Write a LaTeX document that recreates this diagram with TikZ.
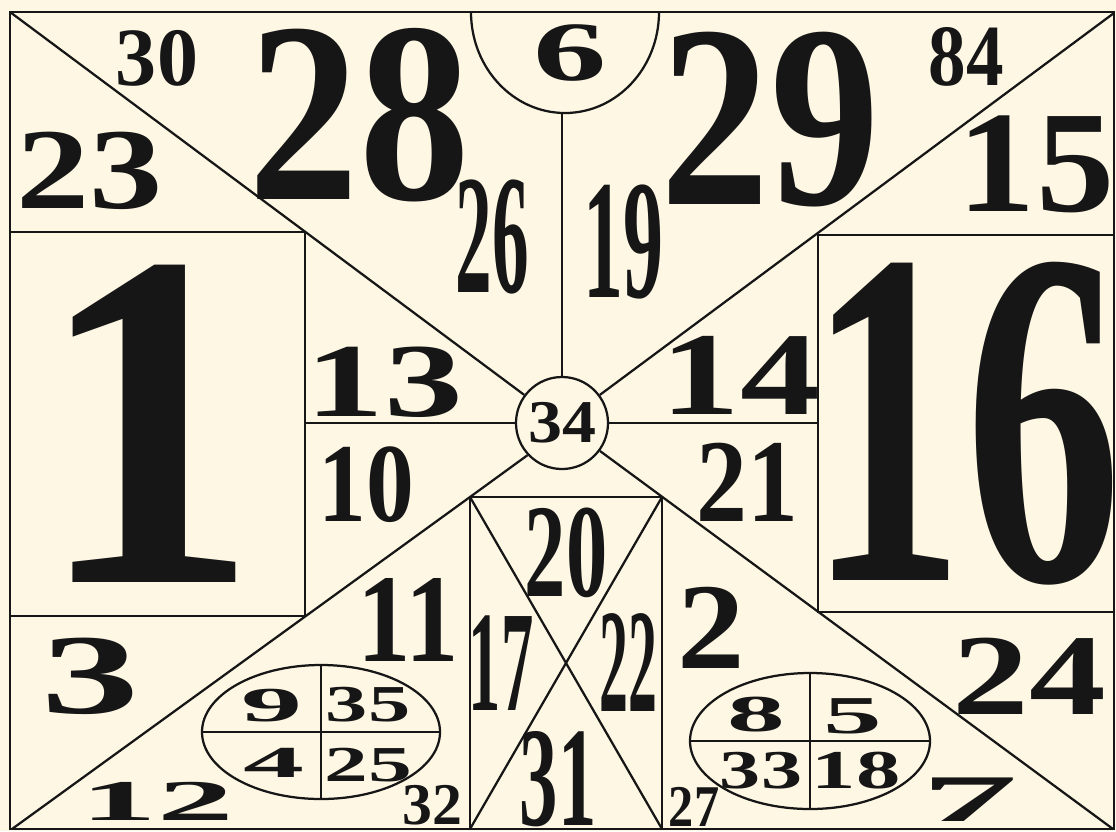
\documentclass[tikz,border=0pt]{standalone}
\usepackage{fontspec}
\setmainfont{Liberation Serif}
\definecolor{paper}{RGB}{254, 247, 228}
\definecolor{ink}{RGB}{22, 22, 22}
\usepackage{tikz}
\usetikzlibrary{calc}
\usepackage{graphicx}

% number: x-stretch, digit height in px, text
\newcommand{\dg}[3]{\scalebox{#1}[1]{\fontsize{\fpeval{1.052*#2}}{\fpeval{1.2*#2}}\selectfont\bfseries #3}}

\begin{document}
\begin{tikzpicture}[x=0.025cm, y=-0.025cm, line width=1.6pt, color=ink,
    lbl/.style={inner sep=0pt, anchor=center}]
  \fill[paper] (0,0) rectangle (1116,831);
  \useasboundingbox (0,0) rectangle (1116,831);

  \coordinate (tl) at (10,12);
  \coordinate (tr) at (1114,13);
  \coordinate (br) at (1113,829);
  \coordinate (bl) at (12,829);
  \coordinate (m1) at (470,497);
  \coordinate (m2) at (662,497);
  \coordinate (m3) at (662,829);
  \coordinate (m4) at (470,829);
  \coordinate (s6) at (562,113);

  \node[circle, draw, inner sep=0pt, minimum size=2.3cm] (c34) at (562,423)
    {\dg{1.12}{41}{34}};

  \draw (tl) rectangle (1114,829);

  % diagonals
  \draw (tl) -- (c34);
  \draw (tr) -- (c34);
  \draw (br) -- (c34);
  \draw (bl) -- (m1) -- (c34.223);

  % left and right boxes
  \draw (10,232) -- (305,232) -- (305,616) -- (10,616);
  \draw (305,423) -- (c34.west);
  \draw (1114,235) -- (818,235) -- (818,612) -- (1114,612);
  \draw (c34.east) -- (818,423);

  % half circle on top
  \begin{scope}
    \clip (0,12) rectangle (1116,200);
    \draw (565,12) ellipse [x radius=94, y radius=101];
  \end{scope}
  \draw (c34) -- (s6);

  % middle box
  \draw (m4) -- (m1) -- (m2) -- (m3);
  \draw (m1) -- (m3);
  \draw (m2) -- (m4);

  % ovals
  \draw (321,732) ellipse [x radius=119, y radius=67];
  \draw (202,732) -- (440,732);
  \draw (321,665) -- (321,799);
  \draw (810,741) ellipse [x radius=120, y radius=68];
  \draw (690,741) -- (930,741);
  \draw (810,673) -- (810,809);

  \node[lbl] (n30) at (157,58) {\dg{0.99}{56}{30}};
  \node[lbl] (n23) at (90,171) {\dg{1.27}{78}{23}};
  \node[lbl] (n28) at (359,115) {\dg{0.86}{174}{28}};
  \node[lbl] (n6) at (570,53) {\dg{1.74}{57}{6}};
  \node[lbl] (n29) at (770,120) {\dg{0.84}{176}{29}};
  \node[lbl] (n84) at (966,57) {\dg{0.86}{59}{84}};
  \node[lbl] (n15) at (1036,164) {\dg{1.08}{98}{15}};
  \node[lbl] (n26) at (492,237) {\dg{0.43}{115}{26}};
  \node[lbl] (n19) at (623,242) {\dg{0.47}{115}{19}};
  \node[lbl] (n1) at (148,424) {\dg{0.92}{325}{1}};
  \node[lbl] (n13) at (384,382) {\dg{1.5}{71}{13}};
  \node[lbl] (n14) at (740,375) {\dg{1.35}{80}{14}};
  \node[lbl] (n16) at (965,424) {\dg{0.65}{325}{16}};
  \node[lbl] (n10) at (366,485) {\dg{0.85}{76}{10}};
  \node[lbl] (n21) at (747,482) {\dg{0.86}{80}{21}};
  \node[lbl] (n20) at (566,553) {\dg{0.62}{90}{20}};
  \node[lbl] (n11) at (408,620) {\dg{0.85}{85}{11}};
  \node[lbl] (n17) at (501,663) {\dg{0.45}{97}{17}};
  \node[lbl] (n22) at (628,663) {\dg{0.39}{100}{22}};
  \node[lbl] (n2) at (711,628) {\dg{1.1}{83}{2}};
  \node[lbl] (n3) at (90,676) {\dg{1.72}{77}{3}};
  \node[lbl] (n24) at (1029,676) {\dg{1.33}{78}{24}};
  \node[lbl] (n9) at (272,706) {\dg{2.5}{33}{9}};
  \node[lbl] (n35) at (368,705) {\dg{1.63}{35}{35}};
  \node[lbl] (n4) at (274,763) {\dg{2.75}{30}{4}};
  \node[lbl] (n25) at (368,765) {\dg{1.74}{34}{25}};
  \node[lbl] (n8) at (756,715) {\dg{2.23}{35}{8}};
  \node[lbl] (n5) at (853,716) {\dg{2.2}{36}{5}};
  \node[lbl] (n33) at (761,771) {\dg{1.5}{37}{33}};
  \node[lbl] (n18) at (856,771) {\dg{1.62}{37}{18}};
  \node[lbl] (n12) at (157,801) {\dg{2.66}{39}{12}};
  \node[lbl] (n32) at (432,805) {\dg{1.01}{40}{32}};
  \node[lbl] (n31) at (558,779) {\dg{0.54}{96}{31}};
  \node[lbl] (n27) at (694,807) {\dg{0.85}{40}{27}};
  \node[lbl] (n7) at (970,800) {\dg{2.9}{45}{7}};
\end{tikzpicture}
\end{document}
